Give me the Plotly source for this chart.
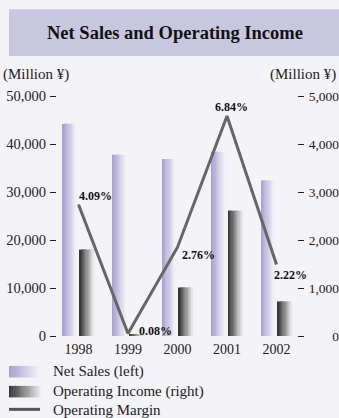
import plotly.graph_objects as go

years = ["1998", "1999", "2000", "2001", "2002"]
net_sales = [44200, 37750, 36900, 38400, 32400]          # Million ¥ (left)
operating_income = [1800, 30, 1010, 2610, 720]          # Million ¥ (right)
operating_margin = [4.09, 0.08, 2.76, 6.84, 2.22]       # %
margin_labels = ["4.09%", "0.08%", "2.76%", "6.84%", "2.22%"]
left_ticks = [0, 10000, 20000, 30000, 40000, 50000]
right_ticks = [0, 1000, 2000, 3000, 4000, 5000]
right_tick_text = ["\u00a0" * 7 + "0", "1,000", "2,000", "3,000", "4,000", "5,000"]

# label placement (pixel shifts relative to each point)
label_shift_x = [-1.5, 9, 2.5, -14, -4.5]
label_shift_y = [8, 2, -8, 9, -10]

W, H = 339, 418
L, R, T, B = 57, 297, 96, 336.5
FONT = "Liberation Serif"
BG = "#f4f3f8"

def px2x(p):
    return (p - L) / (R - L)

def px2y(p):
    return (B - p) / (B - T)

def lerp(c1, c2, t):
    return "rgb(%d,%d,%d)" % tuple(round(a + (b - a) * t) for a, b in zip(c1, c2))

NS_L, NS_R = (166, 162, 210), (242, 241, 248)
OI_L, OI_R = (55, 55, 55), (228, 228, 228)

N = 12
bw = 0.283
fig = go.Figure()
for i in range(N):
    t = i / (N - 1)
    fig.add_trace(go.Bar(x=years, y=net_sales, width=bw / N + 0.002,
                         offset=-0.313 + i * bw / N,
                         marker=dict(color=lerp(NS_L, NS_R, t), line=dict(width=0)),
                         showlegend=False, hoverinfo="skip"))
for i in range(N):
    t = i / (N - 1)
    fig.add_trace(go.Bar(x=years, y=operating_income, width=bw / N + 0.002,
                         offset=0.03 + i * bw / N, yaxis="y2",
                         marker=dict(color=lerp(OI_L, OI_R, t), line=dict(width=0)),
                         showlegend=False, hoverinfo="skip"))

fig.add_trace(go.Scatter(x=years, y=operating_margin, yaxis="y3", mode="lines",
                         line=dict(color="#666666", width=3),
                         cliponaxis=False, showlegend=False))

annotations = []
for idx, (m, lab, sx, sy) in enumerate(zip(operating_margin, margin_labels, label_shift_x, label_shift_y)):
    annotations.append(dict(text="<b>" + lab + "</b>", x=idx, y=m, xref="x", yref="y3",
                            showarrow=False, xanchor="left", yanchor="middle",
                            xshift=sx, yshift=sy,
                            font=dict(family=FONT, size=12, color="#111")))

shapes = []
# title band
shapes.append(dict(type="rect", xref="paper", yref="paper", layer="below",
                   x0=px2x(9), x1=px2x(340), y0=px2y(56), y1=px2y(9),
                   fillcolor="#c9c7e0", line=dict(width=0)))
# legend swatches
def grad_swatch(y0p, y1p, c1, c2, n=14):
    for i in range(n):
        t = i / (n - 1)
        x0 = 9 + i * 31 / n
        shapes.append(dict(type="rect", xref="paper", yref="paper",
                           x0=px2x(x0), x1=px2x(x0 + 31 / n + 0.4),
                           y0=px2y(y1p), y1=px2y(y0p),
                           fillcolor=lerp(c1, c2, t), line=dict(width=0)))
grad_swatch(366.5, 378, NS_L, NS_R)
grad_swatch(386.5, 398, OI_L, OI_R)
shapes.append(dict(type="line", xref="paper", yref="paper",
                   x0=px2x(9), x1=px2x(40), y0=px2y(410), y1=px2y(410),
                   line=dict(color="#555555", width=3)))

annotations += [
    dict(text="<b>Net Sales and Operating Income</b>", xref="paper", yref="paper",
         x=px2x(175), y=px2y(33), showarrow=False, xanchor="center", yanchor="middle",
         font=dict(family=FONT, size=18.5, color="#111")),
    dict(text="(Million ¥)", xref="paper", yref="paper", x=px2x(1), y=px2y(74),
         showarrow=False, xanchor="left", yanchor="middle",
         font=dict(family=FONT, size=15, color="#222")),
    dict(text="(Million ¥)", xref="paper", yref="paper", x=px2x(338), y=px2y(74),
         showarrow=False, xanchor="right", yanchor="middle",
         font=dict(family=FONT, size=15, color="#222")),
]
for txt, yy in [("Net Sales (left)", 372), ("Operating Income (right)", 392), ("Operating Margin", 410.5)]:
    annotations.append(dict(text=txt, xref="paper", yref="paper", x=px2x(51), y=px2y(yy),
                            showarrow=False, xanchor="left", yanchor="middle",
                            font=dict(family=FONT, size=15, color="#222")))

fig.update_layout(
    template="none",
    width=W, height=H, margin=dict(l=L, r=W - R, t=T, b=H - B, autoexpand=False),
    paper_bgcolor=BG, plot_bgcolor=BG,
    barmode="overlay", showlegend=False,
    font=dict(family=FONT, size=14, color="#222"),
    xaxis=dict(type="category", range=[-0.434, 4.414], showgrid=False, showline=False,
               zeroline=False, ticks="", tickfont=dict(size=14), ticklabelstandoff=3,
               automargin=False),
    yaxis=dict(range=[0, 50000], tickvals=left_ticks, tickformat=",", showgrid=False,
               zeroline=False, showline=False, ticks="outside", ticklen=6, tickwidth=1,
               tickcolor="#222", ticklabelstandoff=1, tickfont=dict(size=14.5),
               automargin=False),
    yaxis2=dict(range=[0, 5000], overlaying="y", side="right", tickvals=right_ticks,
                ticktext=right_tick_text, showgrid=False, zeroline=False, showline=False,
                ticks="outside", ticklen=6, tickwidth=1, tickcolor="#222",
                ticklabelstandoff=2, tickfont=dict(size=13.5), automargin=False),
    yaxis3=dict(range=[0, 7.46], overlaying="y", showticklabels=False, ticks="",
                showgrid=False, zeroline=False, showline=False, automargin=False),
    shapes=shapes, annotations=annotations,
)

fig.write_html("out.html")
